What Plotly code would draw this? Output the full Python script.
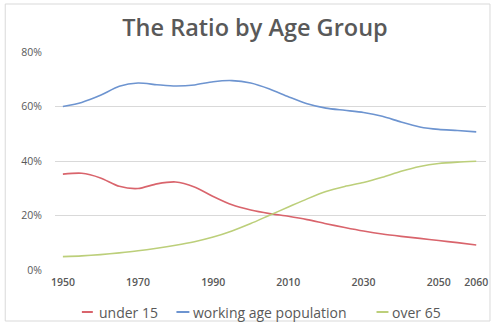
import plotly.graph_objects as go

years = [1950, 1955, 1960, 1965, 1970, 1975, 1980, 1985, 1990, 1995, 2000,
         2005, 2010, 2015, 2020, 2025, 2030, 2035, 2040, 2045, 2050, 2055, 2060]
under15 = [35.2, 35.5, 33.8, 30.7, 29.9, 31.6, 32.3, 30.5, 27.0, 23.9, 22.0,
           20.7, 19.7, 18.5, 17.0, 15.6, 14.3, 13.2, 12.35, 11.6, 10.8, 10.05, 9.2]
working = [60.0, 61.5, 64.1, 67.4, 68.6, 68.0, 67.5, 67.9, 69.1, 69.5, 68.6,
           66.4, 63.6, 61.0, 59.4, 58.6, 57.8, 56.4, 54.3, 52.5, 51.6, 51.2, 50.7]
over65 = [4.9, 5.2, 5.66, 6.3, 7.05, 8.0, 9.1, 10.4, 12.1, 14.35, 17.05,
          20.1, 23.1, 26.1, 28.8, 30.65, 32.1, 34.0, 36.2, 38.0, 39.1, 39.6, 39.9]
series_names = ["under 15", "working age population", "over 65"]
colors = ["#d9646c", "#6d94d0", "#bccf7a"]
tick_years = [1950, 1970, 1990, 2010, 2030, 2050, 2060]
y_ticks = [0, 20, 40, 60, 80]

fig = go.Figure()
for name, vals, col in zip(series_names, [under15, working, over65], colors):
    fig.add_trace(go.Scatter(x=years, y=vals, mode="lines", name=name,
                             line=dict(color=col, width=1.6, shape="spline", smoothing=0.7),
                             showlegend=False))

font_family = "Open Sans"
fig.update_layout(
    width=500, height=324,
    margin=dict(l=55, r=12, t=52, b=54),
    paper_bgcolor="white", plot_bgcolor="white",
    title=dict(text="The Ratio by Age Group", x=255/500, xref="container", xanchor="center",
               y=1 - 28/324, yanchor="middle",
               font=dict(family=font_family, size=23.5, color="#595959", weight=600)),
    xaxis=dict(range=[1947.9, 2062.6], tickvals=tick_years,
               ticktext=[str(y) for y in tick_years], showgrid=False, zeroline=False,
               showline=False, ticks="", tickangle=0, ticklabelstandoff=4,
               tickfont=dict(family=font_family, size=10.5, color="#595959", weight=600)),
    yaxis=dict(range=[0, 80], tickvals=y_ticks, ticktext=[f"{v}%" for v in y_ticks],
               showgrid=True, gridcolor="#d9d9d9", gridwidth=1, zeroline=False,
               showline=False, ticks="", ticklabelstandoff=12,
               tickfont=dict(family=font_family, size=10.5, color="#595959")),
)

# chart border
fig.add_shape(type="rect", xref="paper", yref="paper",
              x0=(5-55)/433, x1=(492-55)/433, y0=(270-321)/218, y1=(270-4)/218,
              line=dict(color="#d9d9d9", width=1), layer="below")

# custom legend
leg_y = (270-312)/218
leg_items = [(82, 93, 97), (177, 190, 192), (378, 390, 392)]
for (lx0, lx1, tx), name, col in zip(leg_items, series_names, colors):
    fig.add_shape(type="line", xref="paper", yref="paper",
                  x0=(lx0-55)/433, x1=(lx1-55)/433, y0=leg_y, y1=leg_y,
                  line=dict(color=col, width=2))
    fig.add_annotation(xref="paper", yref="paper", x=(tx-55)/433, y=leg_y,
                       text=name, showarrow=False, xanchor="left", yanchor="middle",
                       font=dict(family=font_family, size=14, color="#595959"))

fig.write_html("out.html")
